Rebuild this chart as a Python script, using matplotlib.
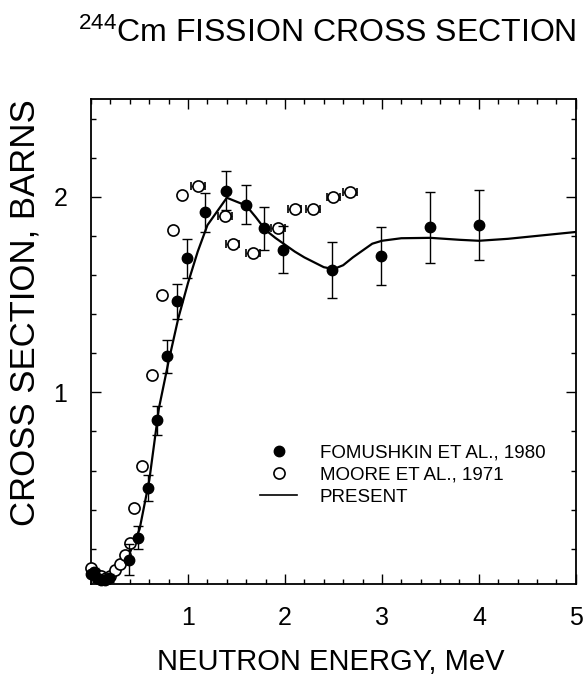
import matplotlib
matplotlib.use('Agg')
import matplotlib.pyplot as plt
from matplotlib.lines import Line2D
from matplotlib.ticker import MultipleLocator

plt.rcParams['font.family'] = ['Liberation Sans', 'DejaVu Sans']
plt.rcParams['mathtext.fontset'] = 'custom'
plt.rcParams['mathtext.rm'] = 'Liberation Sans'
plt.rcParams['mathtext.it'] = 'Liberation Sans'

# Fomushkin et al., 1980 (MeV, barns, error)
fom_e = [0.0, 0.03, 0.06, 0.1, 0.14, 0.18, 0.39, 0.483, 0.586, 0.683, 0.786, 0.89,
         0.99, 1.18, 1.395, 1.594, 1.783, 1.98, 2.49, 2.988, 3.493, 3.999]
fom_xs = [0.07, 0.08, 0.05, 0.04, 0.04, 0.05, 0.145, 0.257, 0.51, 0.857, 1.185,
          1.465, 1.685, 1.92, 2.03, 1.96, 1.84, 1.73, 1.626, 1.699, 1.843, 1.857]
fom_err = [0.02, 0.02, 0.02, 0.02, 0.02, 0.02, 0.08, 0.06, 0.065, 0.075, 0.085,
           0.09, 0.10, 0.10, 0.10, 0.10, 0.11, 0.12, 0.145, 0.148, 0.18, 0.18]

# Moore et al., 1971
moo_e = [0.0, 0.05, 0.1, 0.15, 0.2, 0.25, 0.3, 0.35, 0.4, 0.44, 0.52, 0.63, 0.735,
         0.84, 0.94, 1.1, 1.38, 1.46, 1.67, 1.93, 2.1, 2.29, 2.5, 2.67]
moo_xs = [0.10, 0.07, 0.06, 0.05, 0.06, 0.09, 0.12, 0.17, 0.23, 0.41, 0.625, 1.09,
          1.50, 1.83, 2.01, 2.055, 1.90, 1.76, 1.715, 1.84, 1.935, 1.94, 2.0, 2.025]
moo_eerr = [0, 0, 0, 0, 0, 0, 0, 0, 0, 0, 0, 0, 0,
            0, 0, 0.07, 0.07, 0.07, 0.07, 0.07, 0.07, 0.07, 0.07, 0.07]

# present evaluation
pres_e = [0.0, 0.1, 0.2, 0.3, 0.4, 0.5, 0.6, 0.7, 0.8, 0.9, 1.0, 1.1, 1.2, 1.3, 1.4,
          1.5, 1.6, 1.7, 1.8, 1.9, 2.0, 2.1, 2.2, 2.3, 2.4, 2.5, 2.6, 2.7, 2.8, 2.9,
          3.0, 3.2, 3.5, 3.8, 4.0, 4.3, 4.6, 5.0]
pres_xs = [0.07, 0.06, 0.07, 0.11, 0.18, 0.30, 0.55, 0.92, 1.16, 1.38, 1.56, 1.72,
           1.855, 1.925, 1.995, 1.975, 1.955, 1.895, 1.83, 1.79, 1.755, 1.72, 1.69,
           1.665, 1.64, 1.63, 1.65, 1.69, 1.725, 1.76, 1.775, 1.788, 1.79, 1.78,
           1.775, 1.785, 1.80, 1.82]

fig = plt.figure(figsize=(5.84, 6.86), dpi=100)
ax = fig.add_axes([0.156, 0.1487, 0.83, 0.707])

ax.plot(pres_e, pres_xs, color='black', linewidth=1.6, zorder=2)
moo = ax.errorbar(moo_e, moo_xs, xerr=moo_eerr, fmt='o', mfc='white', mec='black',
                  mew=1.2, ms=8, ecolor='black', elinewidth=1.0, capsize=3, zorder=3)
fom = ax.errorbar(fom_e, fom_xs, yerr=fom_err, fmt='o', color='black', ms=7.5,
                  ecolor='black', elinewidth=1.0, capsize=3.5, zorder=4)
for art in (moo, fom):
    art[0].set_clip_on(False)

ax.set_xlim(0, 5)
ax.set_ylim(0.02, 2.5)
ax.xaxis.set_minor_locator(MultipleLocator(0.2))
ax.yaxis.set_minor_locator(MultipleLocator(0.2))
ax.set_xticks([1, 2, 3, 4, 5])
ax.set_yticks([1, 2])
ax.tick_params(which='both', direction='in', top=True, right=True, width=1.0)
ax.tick_params(which='major', length=7)
ax.tick_params(which='minor', length=3.5)
ax.tick_params(axis='x', labelsize=18, pad=16)
ax.tick_params(axis='y', labelsize=18, pad=17)
for sp in ax.spines.values():
    sp.set_linewidth(1.3)

ax.set_xlabel('NEUTRON ENERGY, MeV', fontsize=21)
ax.xaxis.set_label_coords(0.495, -0.133)
ax.set_ylabel('CROSS SECTION, BARNS', fontsize=25)
ax.yaxis.set_label_coords(-0.102, 0.56)
fig.text(0.56, 0.952, r'$^{244}$Cm FISSION CROSS SECTION', fontsize=23,
         ha='center', va='center')

handles = [
    Line2D([], [], marker='o', color='black', ls='none', ms=7.5),
    Line2D([], [], marker='o', mfc='white', mec='black', mew=1.2, ls='none', ms=8),
    Line2D([], [], color='black', lw=1.2),
]
labels = ['FOMUSHKIN ET AL., 1980', 'MOORE ET AL., 1971', 'PRESENT']
ax.legend(handles, labels, loc='upper left', bbox_to_anchor=(0.348, 0.287),
          frameon=False, fontsize=13.5, handlelength=2.0, handletextpad=1.2,
          labelspacing=0.25, borderpad=0, borderaxespad=0)

fig.savefig('out.png', dpi=100)
